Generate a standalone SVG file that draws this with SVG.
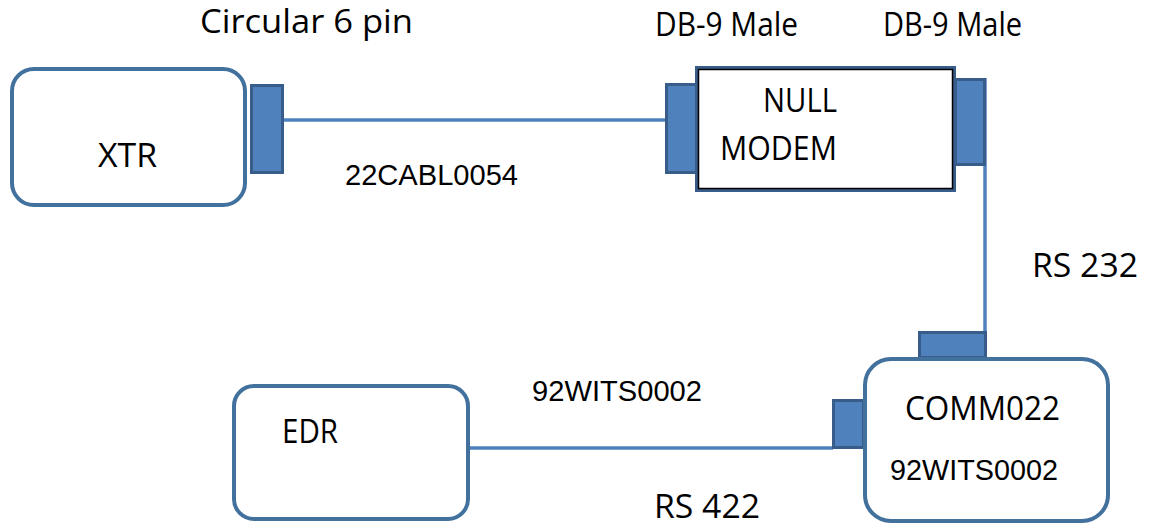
<svg xmlns="http://www.w3.org/2000/svg" width="1149" height="525" viewBox="0 0 1149 525">
<style>
.box{fill:#fff;stroke:#41719c;stroke-width:4}
.conn{fill:#4f81bd;stroke:#385d8a;stroke-width:3}
.wire{fill:none;stroke:#4f81bd;stroke-width:3.5}
.c{font-family:"Open Sans","Liberation Sans",sans-serif;font-size:32px;fill:#000}
.a{font-family:"Liberation Sans",Arial,sans-serif;font-size:29px;fill:#000}
</style>
<rect width="1149" height="525" fill="#fff"/>
<g id="connectors">
<line class="wire" x1="283" y1="120" x2="666" y2="120"/>
<polyline class="wire" points="985,78 985,345"/>
<line class="wire" x1="470" y1="448" x2="833" y2="448"/>
</g>
<g id="xtr">
<rect class="box" x="12" y="69" width="233" height="136" rx="22"/>
<rect class="conn" x="251.5" y="85.5" width="31" height="87"/>
<text class="c" x="98" y="167" textLength="59" lengthAdjust="spacingAndGlyphs">XTR</text>
</g>
<g id="nullmodem">
<rect class="conn" x="666.5" y="84.5" width="30" height="88"/>
<rect class="conn" x="955.5" y="79.5" width="29" height="85"/>
<rect x="697" y="68" width="257" height="122" fill="#fff" stroke="#385d8a" stroke-width="4"/>
<rect x="698.5" y="69.5" width="254" height="119" fill="none" stroke="#000" stroke-width="1.5"/>
<text class="c" x="763" y="112" textLength="74" lengthAdjust="spacingAndGlyphs">NULL</text>
<text class="c" x="720" y="160" textLength="117" lengthAdjust="spacingAndGlyphs">MODEM</text>
</g>
<g id="comm022">
<rect class="conn" x="919.5" y="332.5" width="66" height="25"/>
<rect class="conn" x="833.5" y="400.5" width="30" height="47"/>
<rect class="box" x="865" y="359" width="243" height="162" rx="26"/>
<text class="c" x="905" y="420" textLength="155" lengthAdjust="spacingAndGlyphs">COMM022</text>
<text class="a" x="890" y="480" textLength="168" lengthAdjust="spacingAndGlyphs">92WITS0002</text>
</g>
<g id="edr">
<rect class="box" x="234" y="386" width="234" height="133" rx="20"/>
<text class="c" x="282" y="443" textLength="56" lengthAdjust="spacingAndGlyphs">EDR</text>
</g>
<g id="labels">
<text class="c" x="200" y="33" textLength="213" lengthAdjust="spacingAndGlyphs">Circular 6 pin</text>
<text class="c" x="655" y="36" textLength="143" lengthAdjust="spacingAndGlyphs">DB-9 Male</text>
<text class="c" x="883" y="36" textLength="139" lengthAdjust="spacingAndGlyphs">DB-9 Male</text>
<text class="a" x="345" y="185" textLength="173" lengthAdjust="spacingAndGlyphs">22CABL0054</text>
<text class="c" x="1032" y="277" textLength="106" lengthAdjust="spacingAndGlyphs">RS 232</text>
<text class="a" x="532" y="401" textLength="170" lengthAdjust="spacingAndGlyphs">92WITS0002</text>
<text class="c" x="654" y="518" textLength="106" lengthAdjust="spacingAndGlyphs">RS 422</text>
</g>
</svg>
